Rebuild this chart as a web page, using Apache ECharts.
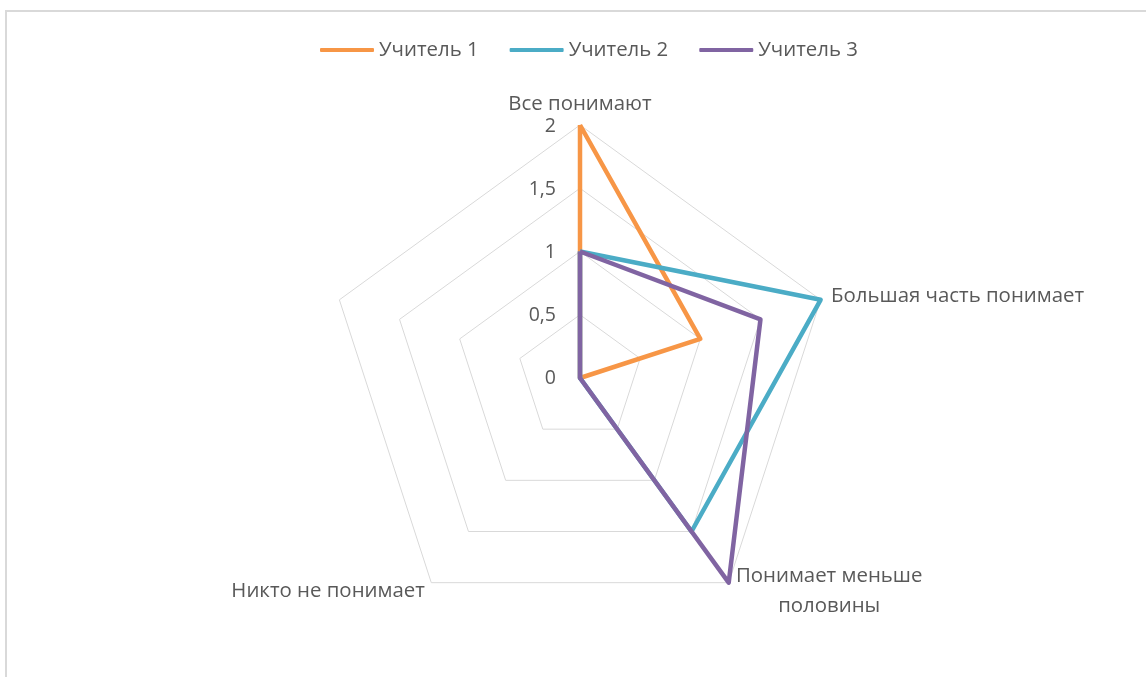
<!DOCTYPE html>
<html>
<head>
<meta charset="utf-8">
<script src="https://cdn.jsdelivr.net/npm/echarts@6/dist/echarts.min.js"></script>
<style>
html,body{margin:0;padding:0;background:#fff;}
#c{width:1146px;height:677px;}
#frame{position:absolute;left:5px;top:10px;right:-10px;bottom:-10px;border-left:2px solid #d9d9d9;border-top:2px solid #d9d9d9;pointer-events:none;}
</style>
</head>
<body>
<div id="c"></div>
<div id="frame"></div>
<script>
// Indicators listed counter-clockwise from the top (ECharts radar order)
const categories = ['Все понимают', '', 'Никто не понимает', 'Понимает меньше половины', 'Большая часть понимает'];
const seriesNames = ['Учитель 1', 'Учитель 2', 'Учитель 3'];
const teacher1 = [2, 0, 0, 0, 1];
const teacher2 = [1, 0, 0, 1.5, 2];
const teacher3 = [1, 0, 0, 2, 1.5];
const tickLabels = ['0', '0,5', '1', '1,5', '2'];

const colors = ['#F79646', '#4BACC6', '#8064A2'];
const FONT = 'Open Sans';
const TXT = '#595959';
const FS = 20.4;

const chart = echarts.init(document.getElementById('c'));
const option = {
  animation: false,
  textStyle: {fontFamily: FONT},
  legend: {
    top: 35, left: 315,
    icon: 'roundRect', itemWidth: 54, itemHeight: 4, itemGap: 31,
    textStyle: {color: TXT, fontSize: FS, fontFamily: FONT},
    data: seriesNames
  },
  grid: {left: 580, top: 126, width: 1, height: 252},
  xAxis: {type: 'value', show: false},
  yAxis: {
    type: 'value', min: 0, max: 2, interval: 0.5,
    axisLine: {show: false}, axisTick: {show: false}, splitLine: {show: false},
    axisLabel: {margin: 24, color: TXT, fontSize: 19.5, fontFamily: FONT,
      formatter: v => tickLabels[Math.round(v / 0.5)]}
  },
  radar: {
    center: [580, 378], radius: 253, startAngle: 90,
    splitNumber: 4, shape: 'polygon',
    indicator: categories.map(n => ({name: n, min: 0, max: 2})),
    axisName: {
      color: TXT, fontSize: FS, fontFamily: FONT,
      formatter: function (name) {
        if (name === 'Понимает меньше половины') return '{c|Понимает меньше}\n{c|половины}';
        return name;
      },
      rich: {c: {width: 188, align: 'center', color: TXT, fontSize: FS, fontFamily: FONT, lineHeight: 30}}
    },
    nameGap: 11,
    axisLine: {show: false},
    splitLine: {lineStyle: {color: '#d9d9d9', width: 1}},
    splitArea: {show: false},
    axisLabel: {show: false}
  },
  series: [{
    type: 'radar',
    symbol: 'none',
    data: [
      {name: seriesNames[0], value: teacher1, lineStyle: {color: colors[0], width: 4.5}, itemStyle: {color: colors[0]}},
      {name: seriesNames[1], value: teacher2, lineStyle: {color: colors[1], width: 4.5}, itemStyle: {color: colors[1]}},
      {name: seriesNames[2], value: teacher3, lineStyle: {color: colors[2], width: 4.5}, itemStyle: {color: colors[2]}}
    ]
  }]
};
chart.setOption(option);
</script>
</body>
</html>
